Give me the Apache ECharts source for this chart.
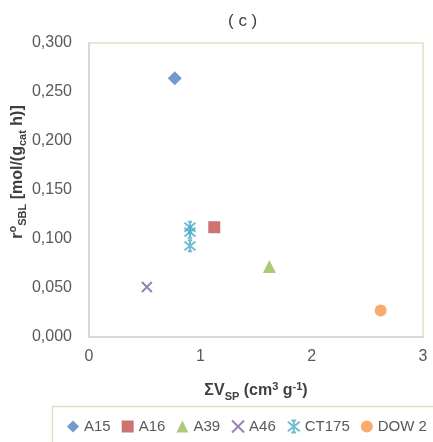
<!DOCTYPE html>
<html>
<head>
<meta charset="utf-8">
<script src="https://cdn.jsdelivr.net/npm/echarts@6/dist/echarts.min.js"></script>
<style>
  html, body { margin: 0; padding: 0; background: #fff; }
  #chart { width: 433px; height: 442px; }
</style>
</head>
<body>
<div id="chart"></div>
<script>
// Catalyst samples: total pore volume vs. initial SBL reaction rate
const seriesNames = ['A15', 'A16', 'A39', 'A46', 'CT175', 'DOW 2'];
const poreVolume = {
  'A15':   [0.77],
  'A16':   [1.125],
  'A39':   [1.62],
  'A46':   [0.52],
  'CT175': [0.907, 0.907, 0.907],
  'DOW 2': [2.62]
};
const rate = {
  'A15':   [0.264],
  'A16':   [0.112],
  'A39':   [0.072],
  'A46':   [0.051],
  'CT175': [0.112, 0.107, 0.093],
  'DOW 2': [0.027]
};
const xTicks = [0, 1, 2, 3];
const yTicks = [0, 0.05, 0.1, 0.15, 0.2, 0.25, 0.3];

const FONT = '"Liberation Sans", Arial, sans-serif';
const colors = ['#4F81BD', '#C0504D', '#9BBB59', '#8064A2', '#4BACC6', '#F79646'];
const crossPath = 'path://M0,0 L10,10 M10,0 L0,10';
const starPath = 'path://M0,1 L10,9 M10,1 L0,9 M5,0 L5,10 M3,0 L7,0 M3,10 L7,10';
const symbols = ['diamond', 'rect', 'triangle', crossPath, starPath, 'circle'];
const sizes = [14, 12, 13, 10, 11, 12];

const series = seriesNames.map((name, i) => {
  const stroked = symbols[i].startsWith('path://');
  return {
    name: name,
    type: 'scatter',
    symbol: symbols[i],
    symbolSize: sizes[i],
    data: poreVolume[name].map((x, k) => [x, rate[name][k]]),
    itemStyle: stroked
      ? { color: 'rgba(0,0,0,0)', borderColor: colors[i], borderWidth: 2 }
      : { color: colors[i] }
  };
});

const rich = {
  b:   { fontSize: 16, fontWeight: 'bold', fill: '#404040', color: '#404040', fontFamily: FONT, verticalAlign: 'bottom', padding: [0, 0, 3, 0] },
  sub: { fontSize: 11, fontWeight: 'bold', fill: '#404040', color: '#404040', fontFamily: FONT, verticalAlign: 'bottom', padding: [0, 0, 0, 0] },
  sup: { fontSize: 11, fontWeight: 'bold', fill: '#404040', color: '#404040', fontFamily: FONT, verticalAlign: 'bottom', padding: [0, 0, 10, 0] }
};

const chart = echarts.init(document.getElementById('chart'));
chart.setOption({
  animation: false,
  backgroundColor: '#fff',
  color: colors,
  title: {
    text: '( c )',
    left: 223,
    top: 8,
    textStyle: { fontSize: 17, fontWeight: 'normal', color: '#404040', fontFamily: FONT }
  },
  grid: {
    left: 89, right: 10, top: 43, bottom: 105,
    outerBoundsMode: 'none',
    containLabel: false,
    show: true, borderColor: '#e4e0c8', borderWidth: 1.5
  },
  xAxis: {
    type: 'value',
    min: xTicks[0], max: xTicks[xTicks.length - 1], interval: 1,
    splitLine: { show: false },
    axisTick: { show: false },
    axisLine: { show: true, lineStyle: { color: '#d9d9d9', width: 2 } },
    axisLabel: { fontSize: 16, color: '#595959', fontFamily: FONT, margin: 12 },
    name: '{b|ΣV}{sub|SP}{b| (cm}{sup|3}{b| g}{sup|-1}{b|)}',
    nameLocation: 'middle',
    nameGap: 44,
    nameTextStyle: { rich: rich }
  },
  yAxis: {
    type: 'value',
    min: yTicks[0], max: yTicks[yTicks.length - 1], interval: 0.05,
    splitLine: { show: false },
    axisTick: { show: false },
    axisLine: { show: true, lineStyle: { color: '#d9d9d9', width: 2 } },
    axisLabel: {
      fontSize: 16, color: '#595959', fontFamily: FONT, margin: 17,
      formatter: v => v.toFixed(3).replace('.', ',')
    }
  },
  legend: {
    data: seriesNames,
    left: 67,
    top: 419,
    width: 420,
    padding: 0,
    itemWidth: 12,
    itemHeight: 12,
    itemGap: 11,
    textStyle: { fontSize: 15, color: '#595959', fontFamily: FONT }
  },
  graphic: [
    {
      // y-axis title, rotated
      type: 'text',
      x: 18, y: 172,
      rotation: Math.PI / 2,
      silent: true,
      style: {
        text: '{b|r}{sup|o}{sub|SBL}{b| [mol/(g}{sub|cat}{b| h)]}',
        rich: rich,
        align: 'center',
        verticalAlign: 'middle'
      }
    },
    {
      // legend frame
      type: 'rect',
      shape: { x: 52.5, y: 406.5, width: 400, height: 60 },
      style: { fill: 'none', stroke: '#e4e0c8', lineWidth: 1.5 },
      silent: true
    }
  ],
  series: series
});
</script>
</body>
</html>
